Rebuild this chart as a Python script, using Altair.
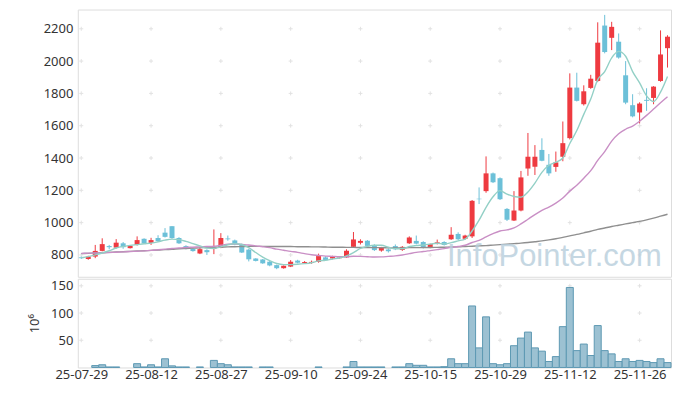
import altair as alt
import pandas as pd

# ---- data (price in KRW, volume in 10^6) ----
opens = [785, 775, 790, 825, 855, 845, 872, 842, 862, 900,
         875, 905, 938, 978, 905, 855, 838, 809, 830, 838,
         845, 902, 890, 865, 833, 778, 772, 758, 737, 718,
         728, 765, 750, 750, 757, 785, 778, 780, 785, 850,
         875, 888, 856, 827, 834, 855, 831, 872, 887, 880,
         845, 872, 880, 897, 930, 900, 915, 1148, 1195, 1305,
         1275, 1085, 1013, 1075, 1335, 1346, 1450, 1358, 1345, 1408,
         1523, 1836, 1733, 1834, 1877, 2220, 2144, 2120, 1912, 1727,
         1682, 1760, 1772, 1877, 2080]
closes = [780, 790, 825, 867, 848, 876, 848, 857, 892, 872,
          892, 885, 912, 905, 872, 838, 824, 836, 817, 848,
          905, 897, 866, 815, 773, 763, 748, 735, 718, 733,
          758, 752, 756, 757, 793, 768, 790, 784, 826, 896,
          887, 856, 830, 843, 823, 836, 850, 908, 870, 845,
          868, 878, 862, 925, 897, 920, 1135, 1145, 1305, 1250,
          1145, 1018, 1075, 1280, 1408, 1408, 1383, 1305, 1373, 1492,
          1836, 1754, 1813, 1891, 2114, 2056, 2212, 2022, 1743, 1658,
          1737, 1754, 1842, 2041, 2151]
highs = [790, 795, 862, 903, 862, 898, 880, 860, 915, 903,
         906, 922, 966, 978, 910, 860, 843, 847, 835, 958,
         935, 920, 895, 870, 838, 780, 775, 762, 740, 735,
         768, 770, 762, 765, 808, 792, 795, 790, 835, 942,
         897, 892, 866, 850, 840, 865, 855, 915, 920, 885,
         870, 895, 885, 972, 940, 925, 1140, 1218, 1410, 1310,
         1280, 1090, 1195, 1320, 1555, 1480, 1522, 1425, 1440, 1626,
         1924, 1928, 1850, 1915, 2240, 2286, 2243, 2171, 2000, 1795,
         1745, 1832, 1845, 2190, 2160]
lows = [775, 770, 780, 822, 835, 840, 838, 840, 858, 868,
        862, 880, 908, 900, 868, 835, 820, 805, 800, 805,
        842, 888, 860, 812, 760, 760, 745, 730, 712, 715,
        725, 748, 745, 745, 752, 763, 773, 778, 782, 843,
        865, 852, 825, 820, 815, 830, 825, 868, 865, 840,
        842, 865, 858, 893, 893, 895, 905, 1115, 1185, 1245,
        1140, 1010, 1010, 1070, 1290, 1295, 1380, 1290, 1315, 1380,
        1515, 1750, 1725, 1828, 1870, 2048, 2068, 2015, 1733, 1652,
        1614, 1692, 1733, 1872, 1960]
volumes = [0, 0, 3.5, 5, 1, 1, 0, 0, 7, 1,
           5, 1, 16, 3, 1, 1, 0, 1, 0, 13,
           7, 5, 1, 1, 1, 0, 1, 1, 0, 0,
           0, 0, 0, 0, 1, 0, 0, 0, 1, 11,
           1, 1, 1, 1, 0, 1, 1, 7, 4, 4,
           1, 1, 1.5, 16, 7, 7, 113, 36, 93, 7,
           5, 7, 40, 54, 65, 36, 30, 11, 20, 75,
           147, 31, 43, 22, 77, 31, 25, 11, 16, 11,
           13, 11, 9, 16, 9]
ma5 = [783, 790, 800, 812, 826, 843, 853, 859, 864, 869,
       873, 881, 892, 898, 895, 884, 870, 856, 842, 840,
       850, 863, 869, 865, 845, 815, 787, 765, 747, 740,
       740, 742, 746, 752, 763, 767, 775, 781, 794, 815,
       840, 853, 860, 860, 848, 838, 838, 852, 858, 862,
       867, 872, 868, 876, 887, 898, 948, 1015, 1095, 1160,
       1198, 1176, 1162, 1158, 1190, 1245, 1311, 1355, 1374, 1400,
       1490, 1570, 1670, 1765, 1885, 1935, 2020, 2060, 2030, 1935,
       1865, 1785, 1750, 1808, 1905]
ma20 = [810, 811, 812, 813, 815, 817, 819, 821, 823, 825,
        828, 832, 836, 840, 843, 846, 848, 850, 852, 854,
        860, 866, 868, 865, 862, 856, 851, 845, 836, 829,
        822, 816, 808, 801, 797, 793, 791, 789, 789, 792,
        791, 789, 787, 788, 791, 794, 800, 808, 816, 821,
        827, 833, 839, 847, 852, 860, 877, 890, 912, 932,
        948, 955, 967, 992, 1021, 1050, 1076, 1096, 1121, 1152,
        1195, 1232, 1275, 1322, 1385, 1440, 1505, 1550, 1578, 1598,
        1628, 1664, 1703, 1742, 1779]
ma60 = [808, 810, 812, 814, 816, 818, 820, 822, 824, 826,
        828, 830, 833, 835, 838, 840, 842, 844, 846, 848,
        849, 850, 851, 852, 853, 853, 853, 853, 852, 852,
        852, 851, 851, 850, 850, 849, 848, 848, 847, 847,
        846, 846, 845, 845, 844, 844, 844, 845, 845, 846,
        846, 847, 848, 849, 850, 852, 854, 856, 858, 861,
        864, 867, 870, 873, 877, 882, 887, 893, 900, 909,
        918, 927, 937, 947, 958, 967, 976, 984, 992, 1000,
        1008, 1017, 1028, 1040, 1052]

tick_index = [0, 10, 20, 30, 40, 50, 60, 70, 80]
tick_labels = ["25-07-29", "25-08-12", "25-08-27", "25-09-10", "25-09-24",
               "25-10-15", "25-10-29", "25-11-12", "25-11-26"]
price_ticks = [800, 1000, 1200, 1400, 1600, 1800, 2000, 2200]
vol_ticks = [50, 100, 150]
vol_title = "10⁶"
watermark_text = "InfoPointer.com"

# ---- tables ----
n = len(opens)
df = pd.DataFrame({
    "i": list(range(n)), "open": opens, "close": closes, "high": highs,
    "low": lows, "vol": volumes, "ma5": ma5, "ma20": ma20, "ma60": ma60,
})
df["dir"] = ["up" if c >= o else "down" for o, c in zip(opens, closes)]
vol_df = df[df["vol"] > 0]

grid_main = pd.DataFrame([(t, v) for t in tick_index for v in price_ticks], columns=["i", "v"])
grid_vol = pd.DataFrame([(t, v) for t in tick_index for v in vol_ticks], columns=["i", "v"])
wm_df = pd.DataFrame({"t": [watermark_text]})

FONT = "Noto Sans"
W = 595
x_scale = alt.Scale(domain=[-0.5, n - 0.5], nice=False, zero=False, padding=0)
y_price = alt.Scale(domain=[665, 2319], nice=False, zero=False, padding=0)
y_vol = alt.Scale(domain=[0, 163], nice=False, padding=0)
col_scale = alt.Scale(domain=["up", "down"], range=["#ee3a40", "#6cc0d8"])

cross = "M-1,0L1,0M0,-1L0,1"

price_axis = alt.Axis(values=price_ticks, format="d", labelOverlap=False, grid=False,
                      ticks=False, domain=False, labelFontSize=13, labelColor="#333333",
                      labelPadding=5, labelFont=FONT, title=None)


def Yp(field):
    return alt.Y(f"{field}:Q", scale=y_price, axis=price_axis)


xm = alt.X("i:Q", scale=x_scale, axis=None)

g1 = alt.Chart(grid_main).mark_point(shape=cross, size=16, filled=False,
                                     stroke="#e2e2e2", strokeWidth=1, opacity=1).encode(
    x=xm, y=Yp("v"))

base = alt.Chart(df)
wicks = base.mark_rule(strokeWidth=1).encode(
    x=xm, y=Yp("low"), y2="high:Q",
    color=alt.Color("dir:N", scale=col_scale, legend=None))
bodies = base.mark_bar(size=5).encode(
    x=xm, y=Yp("open"), y2="close:Q",
    color=alt.Color("dir:N", scale=col_scale, legend=None))


def ma_line(field, color):
    return base.mark_line(interpolate="monotone", strokeWidth=1.4, color=color).encode(
        x=xm, y=Yp(field))


l60 = ma_line("ma60", "#8f8f8f")
l20 = ma_line("ma20", "#c98fc5")
l5 = ma_line("ma5", "#93d0c6")

wm = alt.Chart(wm_df).mark_text(fontSize=31, font="Liberation Sans", color="#b7cedc",
                                opacity=0.8, align="center", baseline="alphabetic").encode(
    x=alt.value(478), y=alt.value(257), text="t:N")

main = alt.layer(g1, wicks, bodies, l60, l20, l5, wm).properties(width=W, height=268)

label_expr = "[" + ",".join(f"'{s}'" for s in tick_labels) + "][round(datum.value/10)]"
xv = alt.X("i:Q", scale=x_scale,
           axis=alt.Axis(values=tick_index, labelExpr=label_expr, labelOverlap=False,
                         grid=False, ticks=False, domain=False, labelFontSize=13,
                         labelColor="#333333", labelPadding=1, labelFont=FONT, title=None))
vol_axis = alt.Axis(values=vol_ticks, format="d", labelOverlap=False, grid=False, ticks=False,
                    domain=False, labelFontSize=13, labelColor="#333333", labelPadding=5,
                    labelFont=FONT, title=vol_title, titleFontSize=13,
                    titleFontWeight="normal", titleColor="#333333", titleFont=FONT,
                    titlePadding=9)

g2 = alt.Chart(grid_vol).mark_point(shape=cross, size=16, filled=False,
                                    stroke="#e2e2e2", strokeWidth=1, opacity=1).encode(
    x=xv, y=alt.Y("v:Q", scale=y_vol, axis=vol_axis))
vbars = alt.Chart(vol_df).mark_bar(size=7, fill="#9cc1d2", stroke="#5d99b3",
                                   strokeWidth=1).encode(
    x=xv, y=alt.Y("vol:Q", scale=y_vol, axis=vol_axis))

vol = alt.layer(g2, vbars).properties(width=W, height=89)

chart = alt.vconcat(main, vol, spacing=0).resolve_scale(
    x="independent", y="independent", color="independent"
).properties(
    padding={"left": 20, "top": 0, "right": 0, "bottom": 0}
).configure_view(stroke="#e3e3e3").configure(font=FONT)

chart.save("out.html", embed_options={"renderer": "svg", "actions": False})
